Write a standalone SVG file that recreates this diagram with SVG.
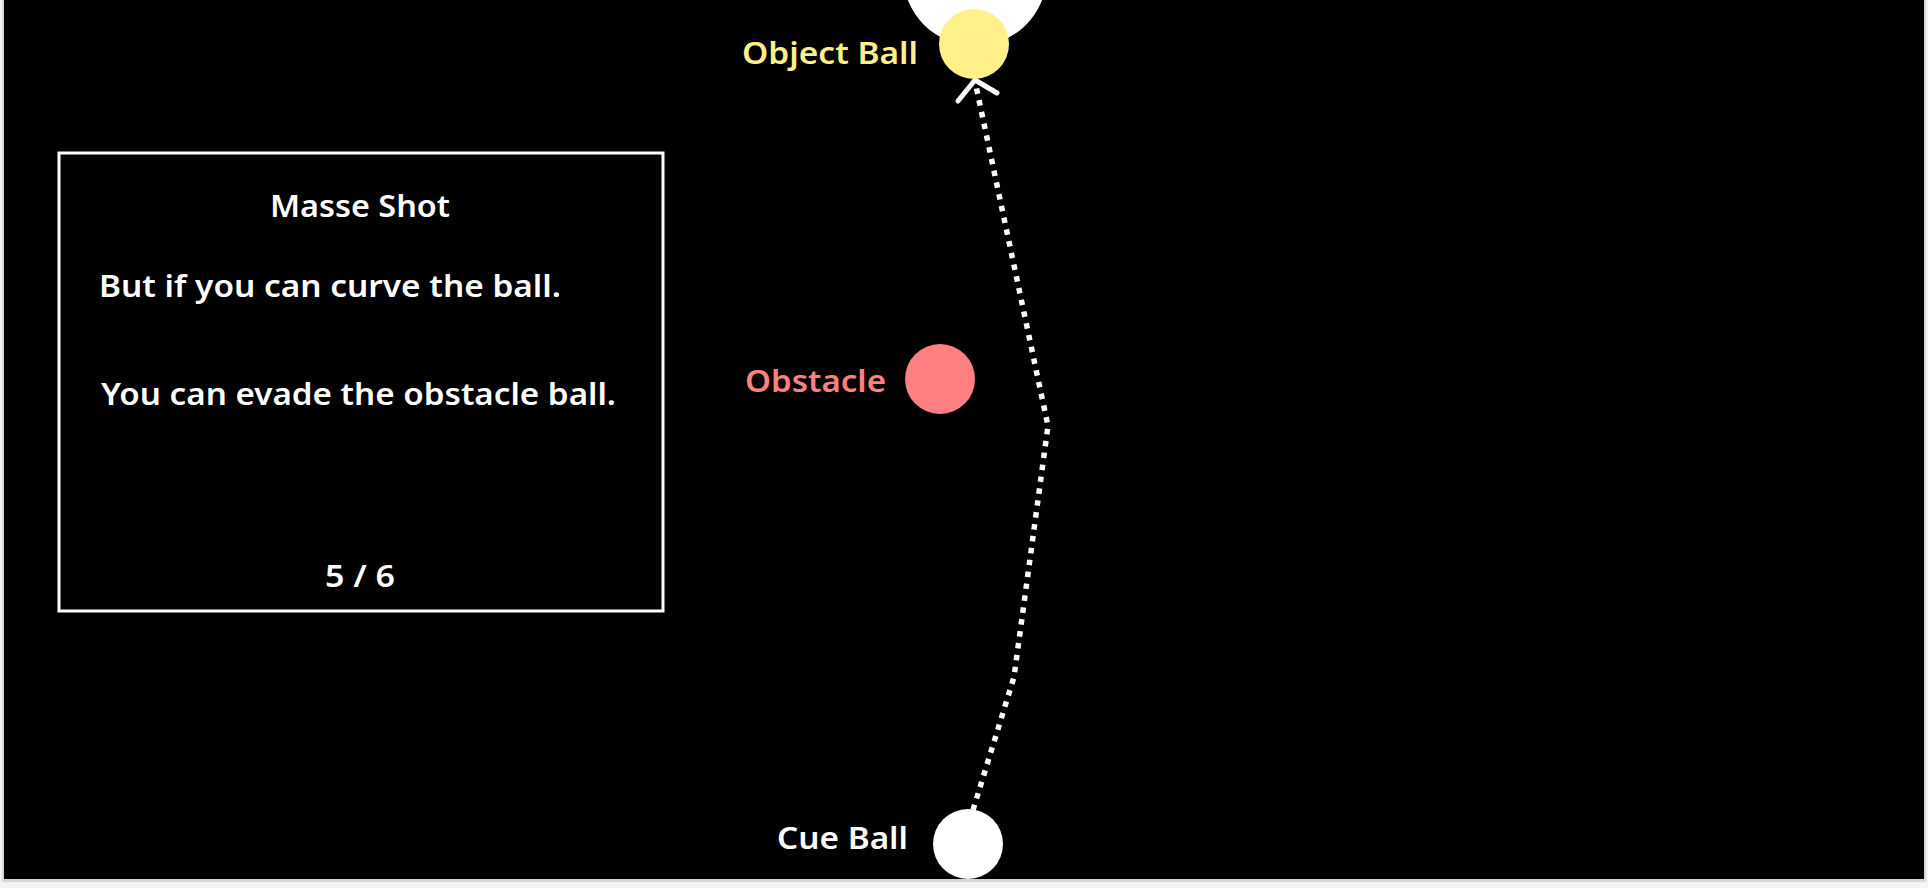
<svg xmlns="http://www.w3.org/2000/svg" width="1928" height="888" viewBox="0 0 1928 888">
  <style>
    .lbl { font-family: "Noto Sans", "Open Sans", sans-serif; font-weight: 600; font-size: 31px; }
    .box-text { font-family: "Noto Sans", "Open Sans", sans-serif; font-weight: 600; font-size: 31px; fill: #ffffff; }
    .path { fill: none; stroke: #ffffff; stroke-width: 5.5; stroke-dasharray: 5.5 6.5; }
    .head { fill: none; stroke: #ffffff; stroke-width: 5; stroke-linecap: round; stroke-linejoin: round; }
  </style>
  <rect x="0" y="0" width="1928" height="888" fill="#f4f4f4"/>
  <rect x="2" y="0" width="1924" height="882" fill="#d8d8d8"/>
  <rect x="4" y="0" width="1920" height="879" fill="#000000"/>

  <g id="ghost-ball">
    <circle cx="975" cy="-26" r="72" fill="#ffffff"/>
  </g>

  <g id="info-box">
    <rect x="59" y="153" width="604" height="458" fill="none" stroke="#ffffff" stroke-width="3"/>
    <text class="box-text" x="270" y="217" textLength="180" lengthAdjust="spacingAndGlyphs">Masse Shot</text>
    <text class="box-text" x="99" y="297" textLength="462" lengthAdjust="spacingAndGlyphs">But if you can curve the ball.</text>
    <text class="box-text" x="101" y="405" textLength="515" lengthAdjust="spacingAndGlyphs">You can evade the obstacle ball.</text>
    <text class="box-text" x="325" y="587" textLength="70" lengthAdjust="spacingAndGlyphs">5 / 6</text>
  </g>

  <g id="connectors">
    <polyline class="path" points="973,810 1014,677 1048,426 976,86"/>
    <polyline class="head" points="958,101 975,80 997,93"/>
  </g>

  <g id="object-ball">
    <circle cx="974" cy="44" r="35" fill="#fff08a"/>
    <text class="lbl" x="742" y="64" textLength="176" lengthAdjust="spacingAndGlyphs" fill="#fff08a">Object Ball</text>
  </g>

  <g id="obstacle">
    <circle cx="940" cy="379" r="35" fill="#ff8080"/>
    <text class="lbl" x="745" y="392" textLength="141" lengthAdjust="spacingAndGlyphs" fill="#ff8080">Obstacle</text>
  </g>

  <g id="cue-ball">
    <circle cx="968" cy="844" r="35" fill="#ffffff"/>
    <text class="lbl" x="777" y="849" textLength="131" lengthAdjust="spacingAndGlyphs" fill="#ffffff">Cue Ball</text>
  </g>
</svg>
